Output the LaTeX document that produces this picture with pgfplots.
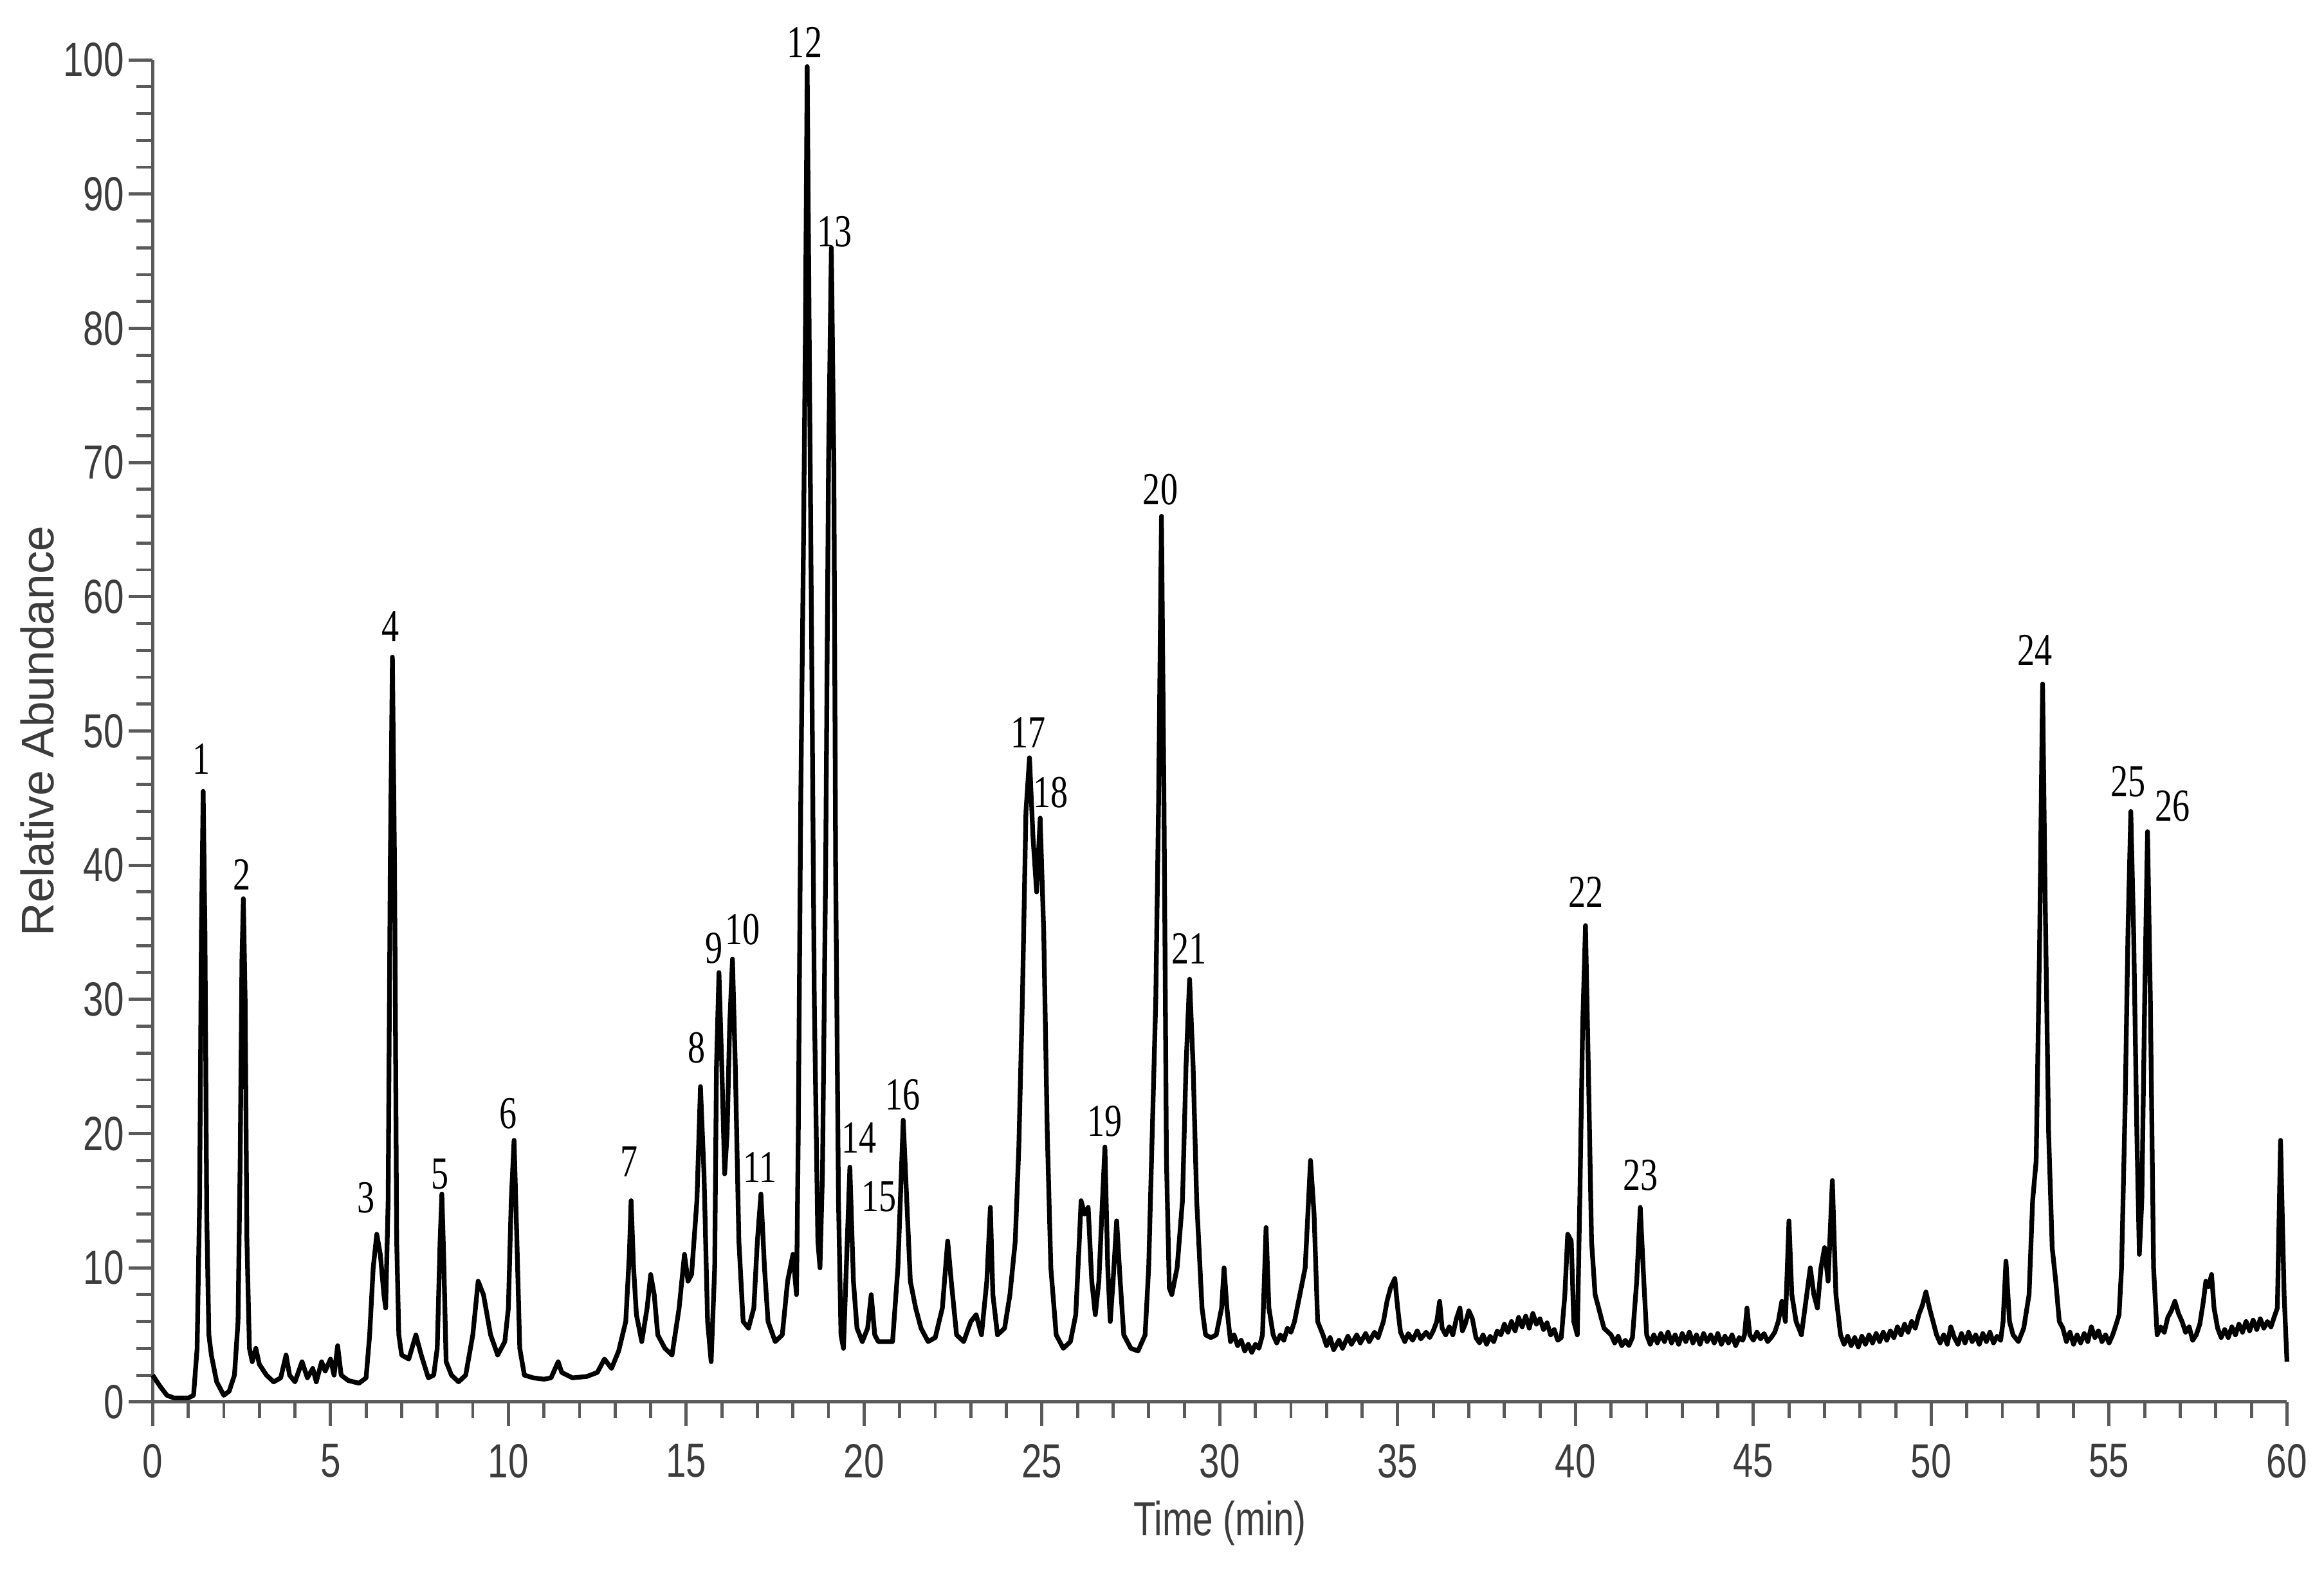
\documentclass[border=0pt]{standalone}
\usepackage{pgfplots}
\pgfplotsset{compat=1.18}
\usepackage{fontspec}
\setmainfont{Liberation Sans}
\newfontfamily\tickfont[FakeStretch=0.76]{Liberation Sans}
\newfontfamily\peakfont[FakeStretch=0.76]{Liberation Serif}
\definecolor{axgray}{HTML}{5A5A5A}
\definecolor{txtgray}{HTML}{3C3C3C}
\begin{document}
\begin{tikzpicture}
\useasboundingbox (-1.03cm,-1.13cm) rectangle (14.65cm,9.46cm);
\begin{axis}[
  at={(0,0)}, anchor=south west,
  width=14.40cm, height=9.056cm, scale only axis,
  xmin=0, xmax=60, ymin=0, ymax=100,
  axis x line*=bottom, axis y line*=left,
  axis line style={axgray, line width=0.6pt},
  xtick={0,5,...,60}, ytick={0,10,...,100},
  minor x tick num=4, minor y tick num=4,
  tick align=outside,
  major tick length=0.16cm, minor tick length=0.11cm,
  tick style={axgray, line width=0.6pt},
  /pgf/number format/assume math mode=true,
  ticklabel style={font=\tickfont\fontsize{9.2}{10}\selectfont, text=txtgray},
  yticklabel style={xshift=0.09cm},
  xlabel={Time (min)},
  ylabel={Relative Abundance},
  xlabel style={at={(axis description cs:0.5,0)}, anchor=base, yshift=-0.90cm,
     font=\tickfont\fontsize{9.2}{10}\selectfont, text=txtgray},
  ylabel style={at={(axis description cs:0,0.5)}, anchor=center, yshift=0.78cm,
     font=\fontsize{8.8}{10}\selectfont, text=txtgray},
  clip=false,
]
\addplot[black, line width=0.9pt, line join=round] coordinates {
(0,2.0) (0.2,1.2) (0.4,0.5) (0.6,0.3) (1.0,0.3) (1.15,0.5) (1.25,4) (1.32,15) (1.37,35) (1.42,45.5) (1.47,35) (1.52,14) (1.58,5) (1.65,3.5) (1.8,1.5) (2.0,0.5) (2.15,0.8) (2.3,2) (2.4,6) (2.46,18) (2.51,33) (2.55,37.5) (2.6,30) (2.65,12) (2.72,4) (2.8,3) (2.9,4) (3.0,2.8) (3.2,2.0) (3.4,1.5) (3.6,1.8) (3.75,3.5) (3.85,2.0) (4.0,1.5) (4.2,3.0) (4.35,1.8) (4.5,2.5) (4.6,1.5) (4.75,3) (4.85,2.3) (5.0,3.2) (5.1,2.0) (5.2,4.2) (5.3,2.0) (5.5,1.6) (5.8,1.4) (6.0,1.8) (6.1,5) (6.2,10) (6.3,12.5) (6.4,11) (6.5,8) (6.55,7) (6.62,15) (6.68,40) (6.74,55.5) (6.8,40) (6.86,12) (6.92,5) (7.0,3.5) (7.2,3.2) (7.4,5) (7.55,3.5) (7.75,1.8) (7.9,2.0) (8.0,4) (8.08,12) (8.13,15.5) (8.18,11) (8.25,3) (8.4,2) (8.6,1.5) (8.8,2) (9.0,5) (9.15,9) (9.3,8) (9.5,5) (9.7,3.5) (9.9,4.5) (10.0,7) (10.08,15) (10.16,19.5) (10.24,12) (10.32,4) (10.45,2) (10.7,1.8) (11.0,1.7) (11.2,1.8) (11.4,3) (11.5,2.2) (11.8,1.8) (12.2,1.9) (12.5,2.2) (12.7,3.2) (12.9,2.5) (13.1,3.8) (13.3,6) (13.4,11) (13.45,15) (13.52,10) (13.6,6.5) (13.75,4.5) (13.9,7) (14.0,9.5) (14.1,8) (14.2,5) (14.4,4) (14.6,3.5) (14.8,7) (14.95,11) (15.05,9) (15.15,9.5) (15.3,15) (15.4,23.5) (15.5,17) (15.6,6) (15.7,3) (15.8,10) (15.85,25) (15.92,32) (16.0,25) (16.08,17) (16.15,20) (16.22,28) (16.3,33) (16.38,25) (16.48,12) (16.6,6) (16.75,5.5) (16.9,7) (17.0,12) (17.1,15.5) (17.2,10) (17.3,6) (17.5,4.5) (17.7,5) (17.85,9) (18.0,11) (18.1,8) (18.15,20) (18.22,45) (18.3,65) (18.35,80) (18.4,99.5) (18.47,75) (18.53,55) (18.6,30) (18.7,12) (18.76,10) (18.83,17) (18.92,40) (19.0,70) (19.08,86) (19.15,70) (19.2,40) (19.28,15) (19.35,5) (19.42,4) (19.5,10) (19.6,17.5) (19.7,9) (19.8,5.5) (19.95,4.5) (20.1,5.5) (20.2,8) (20.3,5) (20.4,4.5) (20.6,4.5) (20.8,4.5) (20.95,10) (21.1,21) (21.2,15) (21.3,9) (21.45,7) (21.6,5.5) (21.8,4.5) (22.0,4.8) (22.2,7) (22.35,12) (22.45,9) (22.6,5) (22.8,4.5) (23.0,6) (23.15,6.5) (23.3,5) (23.45,9) (23.55,14.5) (23.62,8) (23.75,5) (23.95,5.5) (24.1,8) (24.25,12) (24.35,19) (24.45,30) (24.55,44) (24.65,48) (24.75,42) (24.85,38) (24.95,43.5) (25.05,35) (25.15,20) (25.25,10) (25.4,5) (25.6,4) (25.8,4.5) (25.95,6.5) (26.05,12) (26.1,15) (26.2,14) (26.3,14.5) (26.4,9) (26.5,6.5) (26.6,9) (26.7,15) (26.77,19) (26.85,10) (26.92,6) (27.0,9) (27.1,13.5) (27.2,9) (27.3,5) (27.5,4) (27.7,3.8) (27.9,5) (28.0,10) (28.1,20) (28.2,30) (28.28,45) (28.36,66) (28.43,45) (28.5,18) (28.58,8.5) (28.65,8) (28.8,10) (28.95,15) (29.05,25) (29.15,31.5) (29.25,25) (29.35,15) (29.5,7) (29.6,5) (29.75,4.8) (29.9,5) (30.05,7) (30.12,10) (30.2,7) (30.3,4.5) (30.4,5.0) (30.5,4.2) (30.6,4.6) (30.7,3.8) (30.8,4.3) (30.9,3.7) (31.0,4.3) (31.1,4.0) (31.2,5) (31.3,13) (31.38,7) (31.5,5) (31.6,4.4) (31.7,5.0) (31.8,4.6) (31.9,5.5) (32.0,5.2) (32.1,6) (32.25,8) (32.4,10) (32.55,18) (32.65,14) (32.75,6) (32.9,5) (33.0,4.2) (33.1,4.8) (33.2,3.9) (33.35,4.6) (33.45,4.0) (33.6,4.9) (33.7,4.3) (33.85,5.0) (33.95,4.4) (34.1,5.1) (34.2,4.5) (34.35,5.2) (34.45,4.8) (34.6,6) (34.7,7.5) (34.8,8.5) (34.92,9.2) (35.0,7) (35.08,5.2) (35.2,4.5) (35.3,5.1) (35.42,4.6) (35.55,5.3) (35.65,4.7) (35.8,5.2) (35.9,4.8) (36.0,5.3) (36.1,6) (36.18,7.5) (36.25,5.5) (36.35,5.0) (36.45,5.6) (36.55,5.0) (36.65,6.2) (36.75,7) (36.82,5.3) (36.9,5.8) (37.0,6.8) (37.1,6.2) (37.2,4.8) (37.3,4.4) (37.4,5.0) (37.5,4.3) (37.6,4.9) (37.7,4.5) (37.8,5.3) (37.9,5.0) (38.0,5.8) (38.1,5.2) (38.2,6.0) (38.3,5.3) (38.4,6.3) (38.5,5.6) (38.6,6.4) (38.7,5.5) (38.8,6.6) (38.9,5.8) (39.0,6.2) (39.1,5.4) (39.2,5.9) (39.3,5.0) (39.4,5.4) (39.5,4.6) (39.6,4.8) (39.7,8) (39.78,12.5) (39.88,12) (39.95,6) (40.05,5) (40.12,15) (40.2,28) (40.28,35.5) (40.36,25) (40.45,12) (40.55,8) (40.65,7) (40.8,5.5) (41.0,5) (41.1,4.4) (41.2,4.9) (41.3,4.2) (41.4,4.6) (41.5,4.2) (41.6,4.8) (41.72,9) (41.82,14.5) (41.92,9) (42.0,5) (42.1,4.3) (42.2,5.0) (42.3,4.4) (42.4,5.1) (42.5,4.5) (42.6,5.2) (42.7,4.4) (42.8,5.0) (42.9,4.3) (43.0,5.1) (43.1,4.5) (43.2,5.2) (43.3,4.4) (43.4,5.0) (43.5,4.3) (43.6,5.1) (43.7,4.5) (43.8,5.0) (43.9,4.4) (44.0,5.1) (44.1,4.3) (44.2,4.9) (44.3,4.4) (44.4,5.0) (44.5,4.2) (44.6,4.8) (44.7,4.6) (44.75,5) (44.82,7) (44.9,5) (45.0,4.6) (45.1,5.2) (45.2,4.7) (45.3,5.1) (45.4,4.5) (45.5,4.8) (45.6,5.2) (45.7,6) (45.8,7.5) (45.9,6) (46.0,13.5) (46.08,8) (46.2,6) (46.35,5) (46.5,8) (46.6,10) (46.7,8) (46.8,7) (46.9,10) (47.0,11.5) (47.1,9) (47.22,16.5) (47.32,8) (47.45,5) (47.55,4.3) (47.65,4.9) (47.75,4.2) (47.85,4.8) (47.95,4.1) (48.05,4.9) (48.15,4.3) (48.25,5.0) (48.35,4.4) (48.45,5.1) (48.55,4.5) (48.65,5.2) (48.75,4.6) (48.85,5.3) (48.95,4.8) (49.05,5.6) (49.15,5.0) (49.25,5.8) (49.35,5.2) (49.45,6.0) (49.55,5.5) (49.65,6.5) (49.75,7.2) (49.85,8.2) (49.95,7.0) (50.05,6.0) (50.15,5.0) (50.25,4.4) (50.35,5.0) (50.45,4.3) (50.55,5.6) (50.65,4.8) (50.75,4.3) (50.85,5.1) (50.95,4.4) (51.05,5.2) (51.15,4.5) (51.25,5.0) (51.35,4.3) (51.45,5.1) (51.55,4.5) (51.65,5.2) (51.75,4.4) (51.85,4.9) (51.95,4.6) (52.02,6) (52.1,10.5) (52.2,6) (52.3,5) (52.45,4.5) (52.6,5.5) (52.75,8) (52.85,15) (52.95,18) (53.05,35) (53.13,53.5) (53.2,38) (53.3,20) (53.4,11.5) (53.5,9) (53.6,6) (53.7,5.5) (53.8,4.5) (53.9,5.2) (54.0,4.3) (54.1,5.0) (54.2,4.4) (54.3,5.1) (54.4,4.5) (54.5,5.6) (54.6,4.8) (54.7,5.3) (54.8,4.5) (54.9,5.0) (55.0,4.4) (55.1,5.0) (55.2,5.8) (55.28,6.5) (55.35,10) (55.45,22) (55.53,35) (55.61,44) (55.69,35) (55.78,20) (55.85,11) (55.92,15) (56.0,30) (56.08,42.5) (56.16,30) (56.25,10) (56.35,5) (56.45,5.6) (56.55,5.2) (56.65,6.3) (56.75,6.8) (56.85,7.5) (56.95,6.6) (57.05,6.0) (57.15,5.2) (57.25,5.6) (57.35,4.6) (57.45,5.0) (57.55,5.8) (57.65,7.5) (57.72,9) (57.8,8.6) (57.88,9.5) (57.95,7.0) (58.05,5.5) (58.15,4.8) (58.25,5.4) (58.35,4.8) (58.45,5.6) (58.55,5.0) (58.65,5.8) (58.75,5.2) (58.85,6.0) (58.95,5.3) (59.05,6.1) (59.15,5.4) (59.25,6.2) (59.35,5.5) (59.45,6.0) (59.55,5.6) (59.65,6.4) (59.73,7) (59.82,19.5) (59.92,8) (60.0,3)
};
\begin{scope}[every node/.style={font=\peakfont\fontsize{8.8}{10}\selectfont, inner sep=0pt}]
\node at (axis cs:1.37,47.9) {1};
\node at (axis cs:2.50,39.3) {2};
\node at (axis cs:6.00,15.2) {3};
\node at (axis cs:6.69,57.8) {4};
\node at (axis cs:8.08,17.0) {5};
\node at (axis cs:10.00,21.5) {6};
\node at (axis cs:13.40,17.9) {7};
\node at (axis cs:15.29,26.4) {8};
\node at (axis cs:15.78,33.8) {9};
\node at (axis cs:16.58,35.2) {10};
\node at (axis cs:17.08,17.5) {11};
\node at (axis cs:18.33,101.3) {12};
\node at (axis cs:19.17,87.2) {13};
\node at (axis cs:19.86,19.7) {14};
\node at (axis cs:20.42,15.3) {15};
\node at (axis cs:21.08,22.9) {16};
\node at (axis cs:24.62,49.9) {17};
\node at (axis cs:25.25,45.4) {18};
\node at (axis cs:26.77,20.9) {19};
\node at (axis cs:28.33,68.0) {20};
\node at (axis cs:29.13,33.8) {21};
\node at (axis cs:40.29,38.0) {22};
\node at (axis cs:41.83,16.9) {23};
\node at (axis cs:52.92,56.0) {24};
\node at (axis cs:55.54,46.2) {25};
\node at (axis cs:56.79,44.4) {26};
\end{scope}
\end{axis}
\end{tikzpicture}
\end{document}
